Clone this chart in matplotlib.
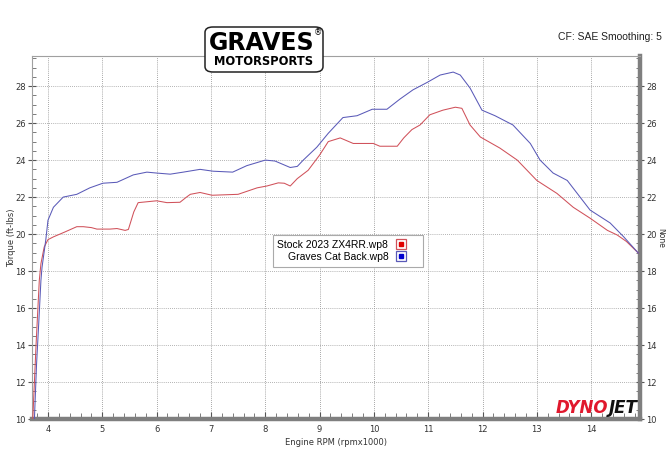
import matplotlib
matplotlib.use("Agg")
import matplotlib.pyplot as plt
from matplotlib.lines import Line2D
from matplotlib.patches import FancyBboxPatch
from matplotlib.ticker import MultipleLocator

# ---- data (RPM x1000, torque ft-lbs) ----
stock_rpm = [3.72, 3.78, 3.84, 3.87, 3.93, 4.0, 4.1, 4.3, 4.53, 4.65, 4.8, 4.9, 5.14, 5.27,
             5.42, 5.48, 5.58, 5.66, 6.0, 6.19, 6.43, 6.55, 6.62, 6.8, 7.02, 7.5, 7.7, 7.85,
             8.03, 8.24, 8.35, 8.46, 8.59, 8.79, 9.0, 9.16, 9.38, 9.5, 9.62, 9.99, 10.11,
             10.43, 10.55, 10.7, 10.85, 11.03, 11.27, 11.5, 11.62, 11.77, 11.96, 12.32,
             12.64, 13.0, 13.37, 13.67, 13.98, 14.3, 14.48, 14.65, 14.87]
stock_tq = [10.0, 14.0, 17.5, 18.4, 19.3, 19.7, 19.85, 20.1, 20.4, 20.4, 20.35, 20.27, 20.27,
            20.3, 20.2, 20.25, 21.2, 21.7, 21.8, 21.7, 21.72, 22.0, 22.15, 22.25, 22.1, 22.15,
            22.35, 22.5, 22.6, 22.77, 22.75, 22.6, 23.0, 23.45, 24.27, 25.0, 25.2, 25.05, 24.9,
            24.9, 24.75, 24.75, 25.2, 25.65, 25.9, 26.45, 26.7, 26.86, 26.8, 25.9, 25.25, 24.65,
            24.0, 22.9, 22.2, 21.45, 20.86, 20.2, 19.95, 19.6, 18.97]

graves_rpm = [3.75, 3.79, 3.83, 3.87, 3.89, 3.96, 4.0, 4.1, 4.28, 4.53, 4.77, 5.01, 5.27, 5.57,
              5.82, 6.0, 6.25, 6.49, 6.8, 7.04, 7.4, 7.66, 8.0, 8.18, 8.46, 8.59, 8.7, 8.95,
              9.16, 9.43, 9.69, 9.97, 10.24, 10.48, 10.72, 10.98, 11.22, 11.46, 11.59, 11.77,
              11.99, 12.23, 12.56, 12.88, 13.06, 13.3, 13.56, 13.98, 14.35, 14.6, 14.87]
graves_tq = [10.0, 13.0, 15.2, 17.5, 18.2, 19.7, 20.75, 21.45, 22.0, 22.15, 22.5, 22.75, 22.8,
             23.2, 23.35, 23.3, 23.24, 23.35, 23.5, 23.4, 23.35, 23.7, 24.0, 23.95, 23.6, 23.66,
             24.0, 24.7, 25.45, 26.3, 26.4, 26.75, 26.75, 27.3, 27.8, 28.2, 28.6, 28.76, 28.6,
             27.9, 26.7, 26.4, 25.9, 24.9, 24.0, 23.3, 22.9, 21.3, 20.6, 19.85, 18.97]

series_labels = ["Stock 2023 ZX4RR.wp8", "Graves Cat Back.wp8"]
x_ticks = [4, 5, 6, 7, 8, 9, 10, 11, 12, 13, 14]
y_ticks = [10, 12, 14, 16, 18, 20, 22, 24, 26, 28]

red = "#d0515a"
blue = "#5a5ab8"
gray = "#7f7f7f"

fig = plt.figure(figsize=(6.66, 4.53), dpi=100)
ax = fig.add_axes([0.048, 0.075, 0.913, 0.801])

ax.plot(stock_rpm, stock_tq, color=red, lw=0.75, zorder=3)
ax.plot(graves_rpm, graves_tq, color=blue, lw=0.75, zorder=3)

ax.set_xlim(3.705, 14.9)
ax.set_ylim(10, 29.62)

ax.set_xticks(x_ticks)
ax.set_yticks(y_ticks)
ax.xaxis.set_minor_locator(MultipleLocator(0.2))
ax.yaxis.set_minor_locator(MultipleLocator(0.5))

ax.grid(True, which="major", axis="x", color="#8a8a8a", ls=(0, (1, 1.5)), lw=0.6)
ax.grid(True, which="major", axis="y", color="#9a9a9a", ls=(0, (1, 1.5)), lw=0.6)

for s in ("left", "top"):
    ax.spines[s].set_color("#a0a0a0")
    ax.spines[s].set_linewidth(0.8)
ax.spines["bottom"].set_color(gray)
ax.spines["bottom"].set_linewidth(3.2)
ax.spines["right"].set_color(gray)
ax.spines["right"].set_linewidth(3.2)

ax.tick_params(axis="x", which="major", direction="in", length=5, width=0.8,
               color="#555555", labelsize=6, pad=4, labelcolor="#333333")
ax.tick_params(axis="x", which="minor", direction="in", length=4, width=0.6, color="#666666")
ax.tick_params(axis="y", which="major", direction="inout", length=6, width=0.8,
               color="#555555", labelsize=6, labelcolor="#333333", right=True,
               labelright=True, pad=1.5)
ax.tick_params(axis="y", which="minor", direction="in", length=3, width=0.6,
               color="#666666", right=True)

ax.set_xlabel("Engine RPM (rpmx1000)", fontsize=6, color="#333333", labelpad=3)
ax.set_ylabel("Torque (ft-lbs)", fontsize=6, color="#333333")
ax.yaxis.set_label_coords(-0.027, 0.5)
ax.text(1.034, 0.5, "None", transform=ax.transAxes, rotation=-90, fontsize=5.5,
        color="#333333", ha="center", va="center")

# legend
h1 = (Line2D([], [], ls="none", marker="s", ms=7, mfc="white", mec=red, mew=0.9),
      Line2D([], [], ls="none", marker="s", ms=3.5, mfc="#e00000", mec="#e00000"))
h2 = (Line2D([], [], ls="none", marker="s", ms=7, mfc="white", mec=blue, mew=0.9),
      Line2D([], [], ls="none", marker="s", ms=3.5, mfc="#0000d0", mec="#0000d0"))
leg = ax.legend([h1, h2], series_labels, loc="upper left", bbox_to_anchor=(0.396, 0.507),
                markerfirst=False, fancybox=False, framealpha=1, edgecolor="#aaaaaa",
                prop={"family": "Liberation Sans", "size": 7.5}, handlelength=3.3,
                handletextpad=-0.4, borderpad=0.45, borderaxespad=0, labelspacing=0.2)
leg.get_frame().set_linewidth(0.8)

# Header text
fig.text(0.994, 0.918, "CF: SAE Smoothing: 5", ha="right", va="center",
         fontsize=7.5, family="Liberation Sans", color="#222222")

# Graves logo
box = FancyBboxPatch((205 / 666, 1 - 72 / 453), 118 / 666, 45 / 453,
                     boxstyle="round,pad=0,rounding_size=0.012", transform=fig.transFigure,
                     facecolor="white", edgecolor="#222222", lw=1.1, zorder=10)
fig.add_artist(box)
fig.text(262 / 666, 1 - 43 / 453, "GRAVES", ha="center", va="center", fontsize=17,
         fontweight="heavy", family="DejaVu Sans", color="black", zorder=11)
fig.text(264 / 666, 1 - 61.5 / 453, "MOTORSPORTS", ha="center", va="center", fontsize=8.3,
         fontweight="heavy", family="DejaVu Sans", color="black", zorder=11)
fig.text(318 / 666, 1 - 33 / 453, "\u00ae", ha="center", va="center", fontsize=6,
         color="black", zorder=11)

# Dynojet logo
ax.text(0.948, 0.006, "DYNO", transform=ax.transAxes, ha="right", va="bottom",
        fontsize=12, fontweight="heavy", style="italic", color="#e0182d", zorder=5)
ax.text(0.948, 0.006, "JET", transform=ax.transAxes, ha="left", va="bottom",
        fontsize=12, fontweight="heavy", style="italic", color="#111111", zorder=5)

fig.savefig("out.png", dpi=100)
